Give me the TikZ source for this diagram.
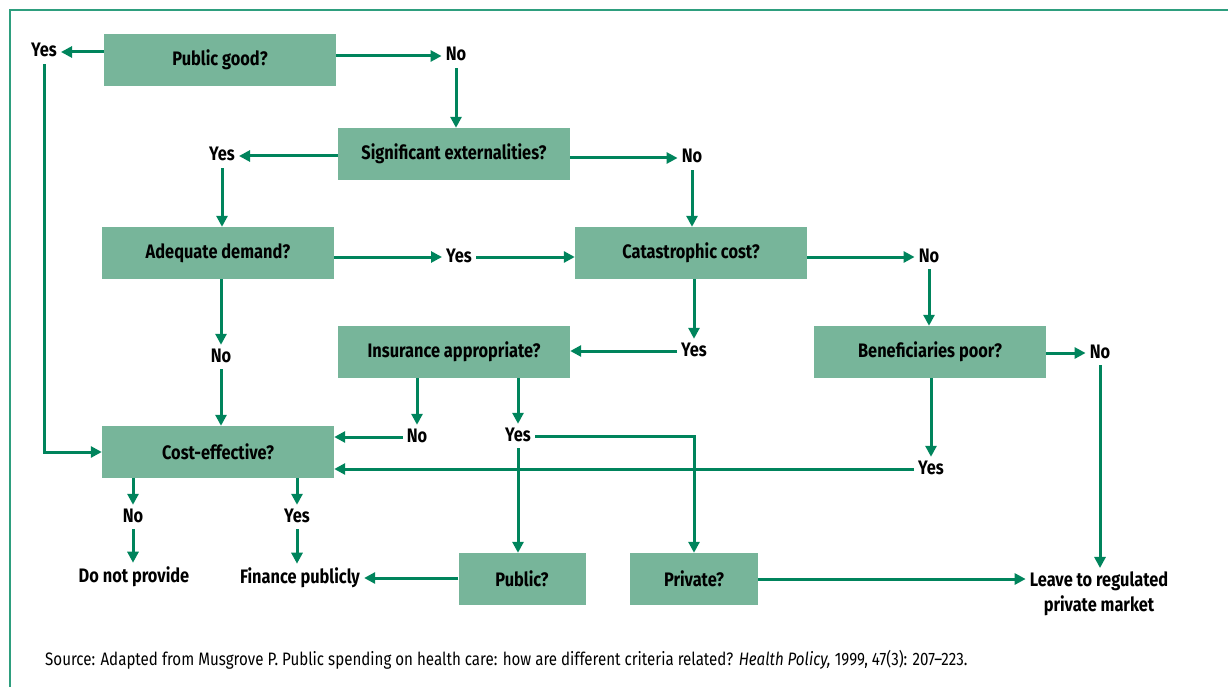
\documentclass[tikz,border=0pt]{standalone}
\usepackage{fontspec}
\setmainfont{Fira Sans}[FakeStretch=0.84]
\usetikzlibrary{arrows.meta,calc}
\definecolor{boxfill}{HTML}{77B59A}
\definecolor{linegreen}{HTML}{00845C}
\definecolor{framegreen}{HTML}{2E9E7E}
\tikzset{
  qbox/.style={fill=boxfill, draw=none, minimum width=232pt, minimum height=52pt, inner sep=0pt, font=\fontsize{19.5}{22}\selectfont\bfseries},
  sbox/.style={qbox, minimum width=127pt},
  lbl/.style={inner sep=4pt, text height=13pt, text depth=3pt, font=\fontsize{19.5}{22}\selectfont\bfseries},
  endlbl/.style={inner sep=4pt, align=center, font=\fontsize{19.5}{24.5}\selectfont\bfseries},
  arr/.style={draw=linegreen, line width=3pt, -{Triangle[length=11pt,width=11pt]}},
  ln/.style={draw=linegreen, line width=3pt},
}
\begin{document}
\begin{tikzpicture}[x=1pt,y=-1pt]
\useasboundingbox (0,0) rectangle (1228,687);
\draw[framegreen, line width=1.2pt] (10,10) rectangle (1250,710);

% boxes
\node[qbox] (pg) at (220,60) {Public good?};
\node[qbox] (se) at (454,154) {Significant externalities?};
\node[qbox] (ad) at (218,253) {Adequate demand?};
\node[qbox] (cc) at (691,253) {Catastrophic cost?};
\node[qbox] (ia) at (454,352) {Insurance appropriate?};
\node[qbox] (bp) at (930,352) {Beneficiaries poor?};
\node[qbox] (ce) at (218,452) {Cost-effective?};
\node[sbox] (pu) at (522,579) {Public?};
\node[sbox, minimum width=128pt] (pr) at (694,579) {Private?};

% labels
\node[lbl] (y1) at (44,52) {Yes};
\node[lbl] (n1) at (456,56) {No};
\node[lbl] (y2) at (222,156) {Yes};
\node[lbl] (n2) at (692,158) {No};
\node[lbl] (y3) at (459,257) {Yes};
\node[lbl] (n3) at (929,257) {No};
\node[lbl] (n4) at (221,357) {No};
\node[lbl] (y4) at (694,351) {Yes};
\node[lbl] (n5) at (1100,353) {No};
\node[lbl] (n6) at (417,437) {No};
\node[lbl] (y5) at (518,436) {Yes};
\node[lbl] (y6) at (931,469) {Yes};
\node[lbl] (n7) at (133,517) {No};
\node[lbl] (y7) at (297,517) {Yes};
\node[endlbl] (dnp) at (134,577) {Do not provide};
\node[endlbl] (fp) at (300,578) {Finance publicly};
\node[endlbl] (lv) at (1099,594) {Leave to regulated\\private market};

% connectors
\draw[arr] (pg.west |- y1) -- (y1.east);
\draw[arr] (pg.east |- n1) -- (n1.west);
\draw[arr] (n1.south) -- (n1.south |- se.north);
\draw[arr] (y1.south) -- (y1.south |- ce.west) -- (ce.west);

\draw[arr] (se.west |- y2) -- (y2.east);
\draw[arr] (se.east |- n2) -- (n2.west);
\draw[arr] (y2.south) -- (y2.south |- ad.north);
\draw[arr] (n2.south) -- (n2.south |- cc.north);

\draw[arr] (ad.east |- y3) -- (y3.west);
\draw[arr] (y3.east) -- (y3.east -| cc.west);
\draw[arr] (cc.east |- n3) -- (n3.west);
\draw[arr] (n3.south) -- (n3.south |- bp.north);

\draw[arr] (cc.south -| y4) -- (y4.north);
\draw[arr] (y4.west) -- (y4.west -| ia.east);
\draw[arr] (ad.south -| n4) -- (n4.north);
\draw[arr] (n4.south) -- (n4.south |- ce.north);

\draw[arr] (bp.east |- n5) -- (n5.west);
\draw[arr] (n5.south) -- (lv.north -| n5);

\draw[arr] (ia.south -| n6) -- (n6.north);
\draw[arr] (n6.west) -- (n6.west -| ce.east);
\draw[arr] (ia.south -| y5) -- (y5.north);
\draw[arr] (y5.east) -- (y5.east -| pr.north) -- (pr.north);
\draw[arr] (y5.south) -- (y5.south |- pu.north);

\draw[arr] (bp.south -| y6) -- (y6.north);
\draw[arr] (y6.west) -- (y6.west -| ce.east);

\draw[arr] (ce.south -| n7) -- (n7.north);
\draw[arr] (n7.south) -- (n7.south |- dnp.north);
\draw[arr] (ce.south -| y7) -- (y7.north);
\draw[arr] (y7.south) -- (y7.south |- fp.north);

\draw[arr] (pu.west |- fp) -- (fp.east);
\draw[arr] (pr.east) -- (pr.east -| lv.west);

% source
\node[anchor=base west, inner sep=0pt, font=\fontsize{18}{20}\selectfont] (src) at (45,665) {Source: Adapted from Musgrove P. Public spending on health care: how are different criteria related? \textit{Health Policy,} 1999, 47(3): 207--223.};
\end{tikzpicture}
\end{document}
